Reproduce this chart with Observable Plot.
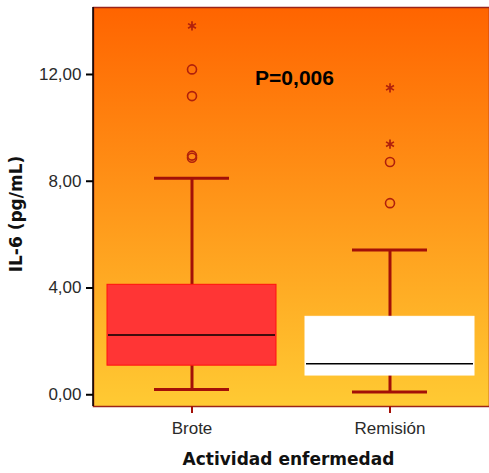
<!DOCTYPE html>
<html>
<head>
<meta charset="utf-8">
<script src="https://cdn.jsdelivr.net/npm/d3@7"></script>
<script src="https://cdn.jsdelivr.net/npm/@observablehq/plot@0.6"></script>
<style>
  html, body { margin: 0; padding: 0; background: #fff; }
  #chart svg { display: block; }
</style>
</head>
<body>
<div id="chart"></div>
<script>
// IL-6 by disease activity: box summaries per group
const groups = ["Brote", "Remisión"];
const whiskerLow = [0.2, 0.1];
const q1 = [1.09, 0.72];
const median = [2.24, 1.16];
const q3 = [4.12, 2.92];
const whiskerHigh = [8.11, 5.42];
const boxFill = ["#FF3535", "#FFFFFF"];
const boxStroke = ["#FF1010", "#FFFFFF"];

// Outliers (circles) and extreme values (asterisks)
const outlierGroup = ["Brote", "Brote", "Brote", "Brote", "Remisión", "Remisión"];
const outlierValue = [8.88, 8.96, 11.19, 12.19, 7.18, 8.72];
const extremeGroup = ["Brote", "Remisión", "Remisión"];
const extremeValue = [13.82, 9.39, 11.5];

const yTicks = [0, 4, 8, 12];
const pLabel = "P=0,006";

const boxes = groups.map((g, i) => ({
  group: g, lo: whiskerLow[i], q1: q1[i], med: median[i], q3: q3[i], hi: whiskerHigh[i],
  fill: boxFill[i], stroke: boxStroke[i]
}));
const outliers = outlierGroup.map((g, i) => ({group: g, value: outlierValue[i]}));
const extremes = extremeGroup.map((g, i) => ({group: g, value: extremeValue[i]}));

const whisker = "#A31008";
const pointColor = "#B0200C";
const comma = d => d.toFixed(2).replace(".", ",");

// Vertical orange-to-yellow backdrop behind the plotting area
function backdrop(index, scales, values, dims) {
  const g = d3.create("svg:g");
  const grad = g.append("defs").append("linearGradient")
    .attr("id", "bg-grad").attr("x1", 0).attr("y1", 0).attr("x2", 0).attr("y2", 1);
  grad.append("stop").attr("offset", "0%").attr("stop-color", "#FF6400");
  grad.append("stop").attr("offset", "100%").attr("stop-color", "#FFCA33");
  g.append("rect")
    .attr("x", dims.marginLeft)
    .attr("y", dims.marginTop)
    .attr("width", dims.width - dims.marginLeft - dims.marginRight)
    .attr("height", dims.height - dims.marginTop - dims.marginBottom)
    .attr("fill", "url(#bg-grad)");
  return g.node();
}

// Black left spine of the frame
function leftSpine(index, scales, values, dims) {
  const g = d3.create("svg:g");
  g.append("line")
    .attr("x1", dims.marginLeft).attr("x2", dims.marginLeft)
    .attr("y1", dims.marginTop).attr("y2", dims.height - dims.marginBottom)
    .attr("stroke", "#000").attr("stroke-width", 1.5);
  return g.node();
}

const chart = Plot.plot({
  width: 489,
  height: 473,
  marginTop: 7,
  marginBottom: 67,
  marginLeft: 93,
  marginRight: 0,
  style: {fontFamily: "'Liberation Sans', Arial, sans-serif", background: "#fff"},
  x: {type: "band", domain: groups, paddingInner: 0.146, paddingOuter: 0.068},
  y: {domain: [-0.44, 14.51]},
  marks: [
    backdrop,
    Plot.frame({stroke: "#9C2418", strokeWidth: 1.5}),
    leftSpine,
    // whiskers
    Plot.ruleX(boxes, {x: "group", y1: "q3", y2: "hi", stroke: whisker, strokeWidth: 3}),
    Plot.ruleX(boxes, {x: "group", y1: "lo", y2: "q1", stroke: whisker, strokeWidth: 3}),
    Plot.tickY(boxes, {x: "group", y: "hi", stroke: whisker, strokeWidth: 3, insetLeft: 47, insetRight: 47}),
    Plot.tickY(boxes, {x: "group", y: "lo", stroke: whisker, strokeWidth: 3, insetLeft: 47, insetRight: 47}),
    // boxes and medians
    Plot.barY(boxes, {x: "group", y1: "q1", y2: "q3", fill: "fill", stroke: "stroke", strokeWidth: 1}),
    Plot.tickY(boxes, {x: "group", y: "med", stroke: "#000", strokeWidth: 1.5, insetLeft: 1, insetRight: 1}),
    // outlying points
    Plot.dot(outliers, {x: "group", y: "value", r: 4.5, stroke: pointColor, strokeWidth: 1.6, fill: "none"}),
    Plot.dot(extremes, {x: "group", y: "value", symbol: "asterisk", r: 4.3, stroke: pointColor, strokeWidth: 1.7}),
    // axes
    Plot.axisY({ticks: yTicks, tickFormat: comma, tickSize: 7, tickPadding: 5, fontSize: 17,
      stroke: "#000", strokeWidth: 2, fill: "#2a2a2a", label: null}),
    Plot.axisX({tickSize: 7, tickPadding: 8, fontSize: 17, stroke: whisker, strokeWidth: 2,
      fill: "#2a2a2a", label: null}),
    // annotations and axis titles
    Plot.text([pLabel], {frameAnchor: "top", dx: 3, dy: 71, lineAnchor: "middle",
      fontSize: 21, fontWeight: "bold", fontFamily: "'Liberation Sans', Arial, sans-serif", fill: "#000"}),
    Plot.text(["Actividad enfermedad"], {frameAnchor: "bottom", dx: -3, dy: 53, lineAnchor: "middle",
      fontSize: 17, fontWeight: "bold", fontFamily: "'DejaVu Sans', Verdana, sans-serif", fill: "#111"}),
    Plot.text(["IL-6 (pg/mL)"], {frameAnchor: "left", dx: -77, dy: 7, rotate: -90, textAnchor: "middle",
      lineAnchor: "middle", fontSize: 17, fontWeight: "bold", fontFamily: "'DejaVu Sans', Verdana, sans-serif", fill: "#111"})
  ]
});

document.getElementById("chart").append(chart);
</script>
</body>
</html>
